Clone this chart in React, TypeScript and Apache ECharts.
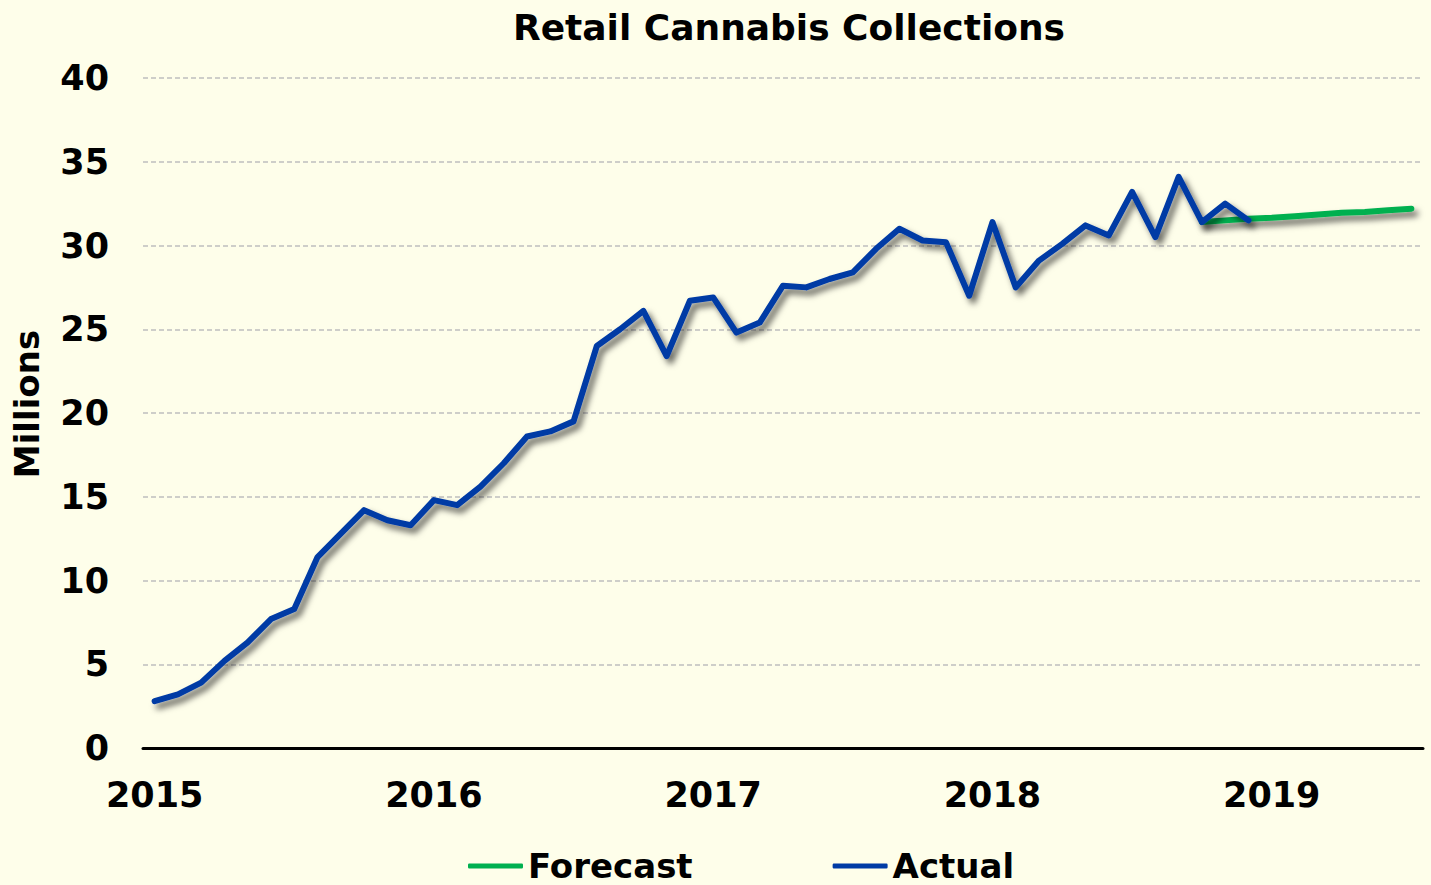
import React, { useEffect, useRef } from "react";
import * as echarts from "echarts";

const months: string[] = [];
for (let y = 2015; y <= 2019; y++) {
  for (let m = 1; m <= 12; m++) {
    if (y === 2019 && m > 7) break;
    months.push(`${y}-${String(m).padStart(2, "0")}`);
  }
}

const actualValues: number[] = [
  2.8, 3.2, 3.9, 5.2, 6.3, 7.7, 8.3, 11.4, 12.8, 14.2, 13.6, 13.3,
  14.8, 14.5, 15.6, 17.0, 18.6, 18.9, 19.5, 24.0, 25.0, 26.1, 23.4, 26.7,
  26.9, 24.8, 25.4, 27.6, 27.5, 28.0, 28.4, 29.8, 31.0, 30.3, 30.2, 27.0,
  31.4, 27.5, 29.1, 30.1, 31.2, 30.6, 33.2, 30.5, 34.1, 31.4, 32.5, 31.5,
];

// Forecast from Oct 2018 to Jul 2019
const forecastStart = "2018-10";
const forecastValues: number[] = [31.4, 31.5, 31.6, 31.65, 31.75, 31.85, 31.95, 32.0, 32.1, 32.2];

const yTicks = { min: 0, max: 40, interval: 5 };

const FONT = "'DejaVu Sans', Verdana, sans-serif";

export default function App() {
  const ref = useRef<HTMLDivElement>(null);
  useEffect(() => {
    if (!ref.current) return;
    const chart = echarts.init(ref.current, null, { renderer: "svg" });
    const startIdx = months.indexOf(forecastStart);
    const actualData = months.map((_, i) => (i < actualValues.length ? actualValues[i] : null));
    const forecastData = months.map((_, i) =>
      i >= startIdx && i - startIdx < forecastValues.length ? forecastValues[i - startIdx] : null
    );
    const shadow = {
      shadowColor: "rgba(0,0,0,0.6)",
      shadowBlur: 6,
      shadowOffsetX: 4,
      shadowOffsetY: 5,
    };
    chart.setOption({
      animation: false,
      backgroundColor: "#FEFEEA",
      title: {
        text: "Retail Cannabis Collections",
        left: 784,
        textAlign: "center",
        top: 4,
        textStyle: { fontFamily: FONT, fontWeight: "bold", fontSize: 36, color: "#000" },
      },
      legend: {
        left: 463,
        top: 844,
        itemWidth: 55,
        itemHeight: 5,
        itemGap: 140,
        icon: "roundRect",
        data: ["Forecast", "Actual"],
        textStyle: { fontFamily: FONT, fontWeight: "bold", fontSize: 34, color: "#000" },
      },
      graphic: [
        {
          type: "text",
          x: 27,
          y: 404,
          rotation: Math.PI / 2,
          style: {
            text: "Millions",
            align: "center",
            verticalAlign: "middle",
            font: `bold 34px ${FONT}`,
            fill: "#000",
          },
        },
      ],
      grid: { left: 143, right: 8, top: 78, bottom: 137, containLabel: false },
      xAxis: {
        type: "category",
        data: months,
        boundaryGap: true,
        axisLine: { lineStyle: { color: "#000", width: 3 } },
        axisTick: {
          length: 10,
          lineStyle: { color: "#000", width: 3 },
          interval: (i: number) => i % 12 === 0,
        },
        axisLabel: {
          interval: (i: number) => i % 12 === 0,
          formatter: (v: string) => v.slice(0, 4),
          margin: 29,
          fontFamily: FONT,
          fontWeight: "bold",
          fontSize: 35,
          color: "#000",
        },
        splitLine: { show: false },
      },
      yAxis: {
        type: "value",
        min: yTicks.min,
        max: yTicks.max,
        interval: yTicks.interval,
        axisLine: { show: false },
        axisTick: { show: false },
        axisLabel: {
          margin: 34,
          fontFamily: FONT,
          fontWeight: "bold",
          fontSize: 35,
          color: "#000",
        },
        splitLine: { lineStyle: { color: "#BFBFBF", width: 1.5, type: [5, 3] } },
      },
      series: [
        {
          name: "Forecast",
          type: "line",
          data: forecastData,
          showSymbol: false,
          symbol: "none",
          itemStyle: { color: "#00B050" },
          lineStyle: { color: "#00B050", width: 6, cap: "round", join: "round", ...shadow },
        },
        {
          name: "Actual",
          type: "line",
          data: actualData,
          showSymbol: false,
          symbol: "none",
          itemStyle: { color: "#003BA5" },
          lineStyle: { color: "#003BA5", width: 6, cap: "round", join: "round", ...shadow },
        },
      ],
    });
    return () => chart.dispose();
  }, []);
  return <div ref={ref} style={{ width: 1431, height: 885, position: "absolute", left: 0, top: 0 }} />;
}
